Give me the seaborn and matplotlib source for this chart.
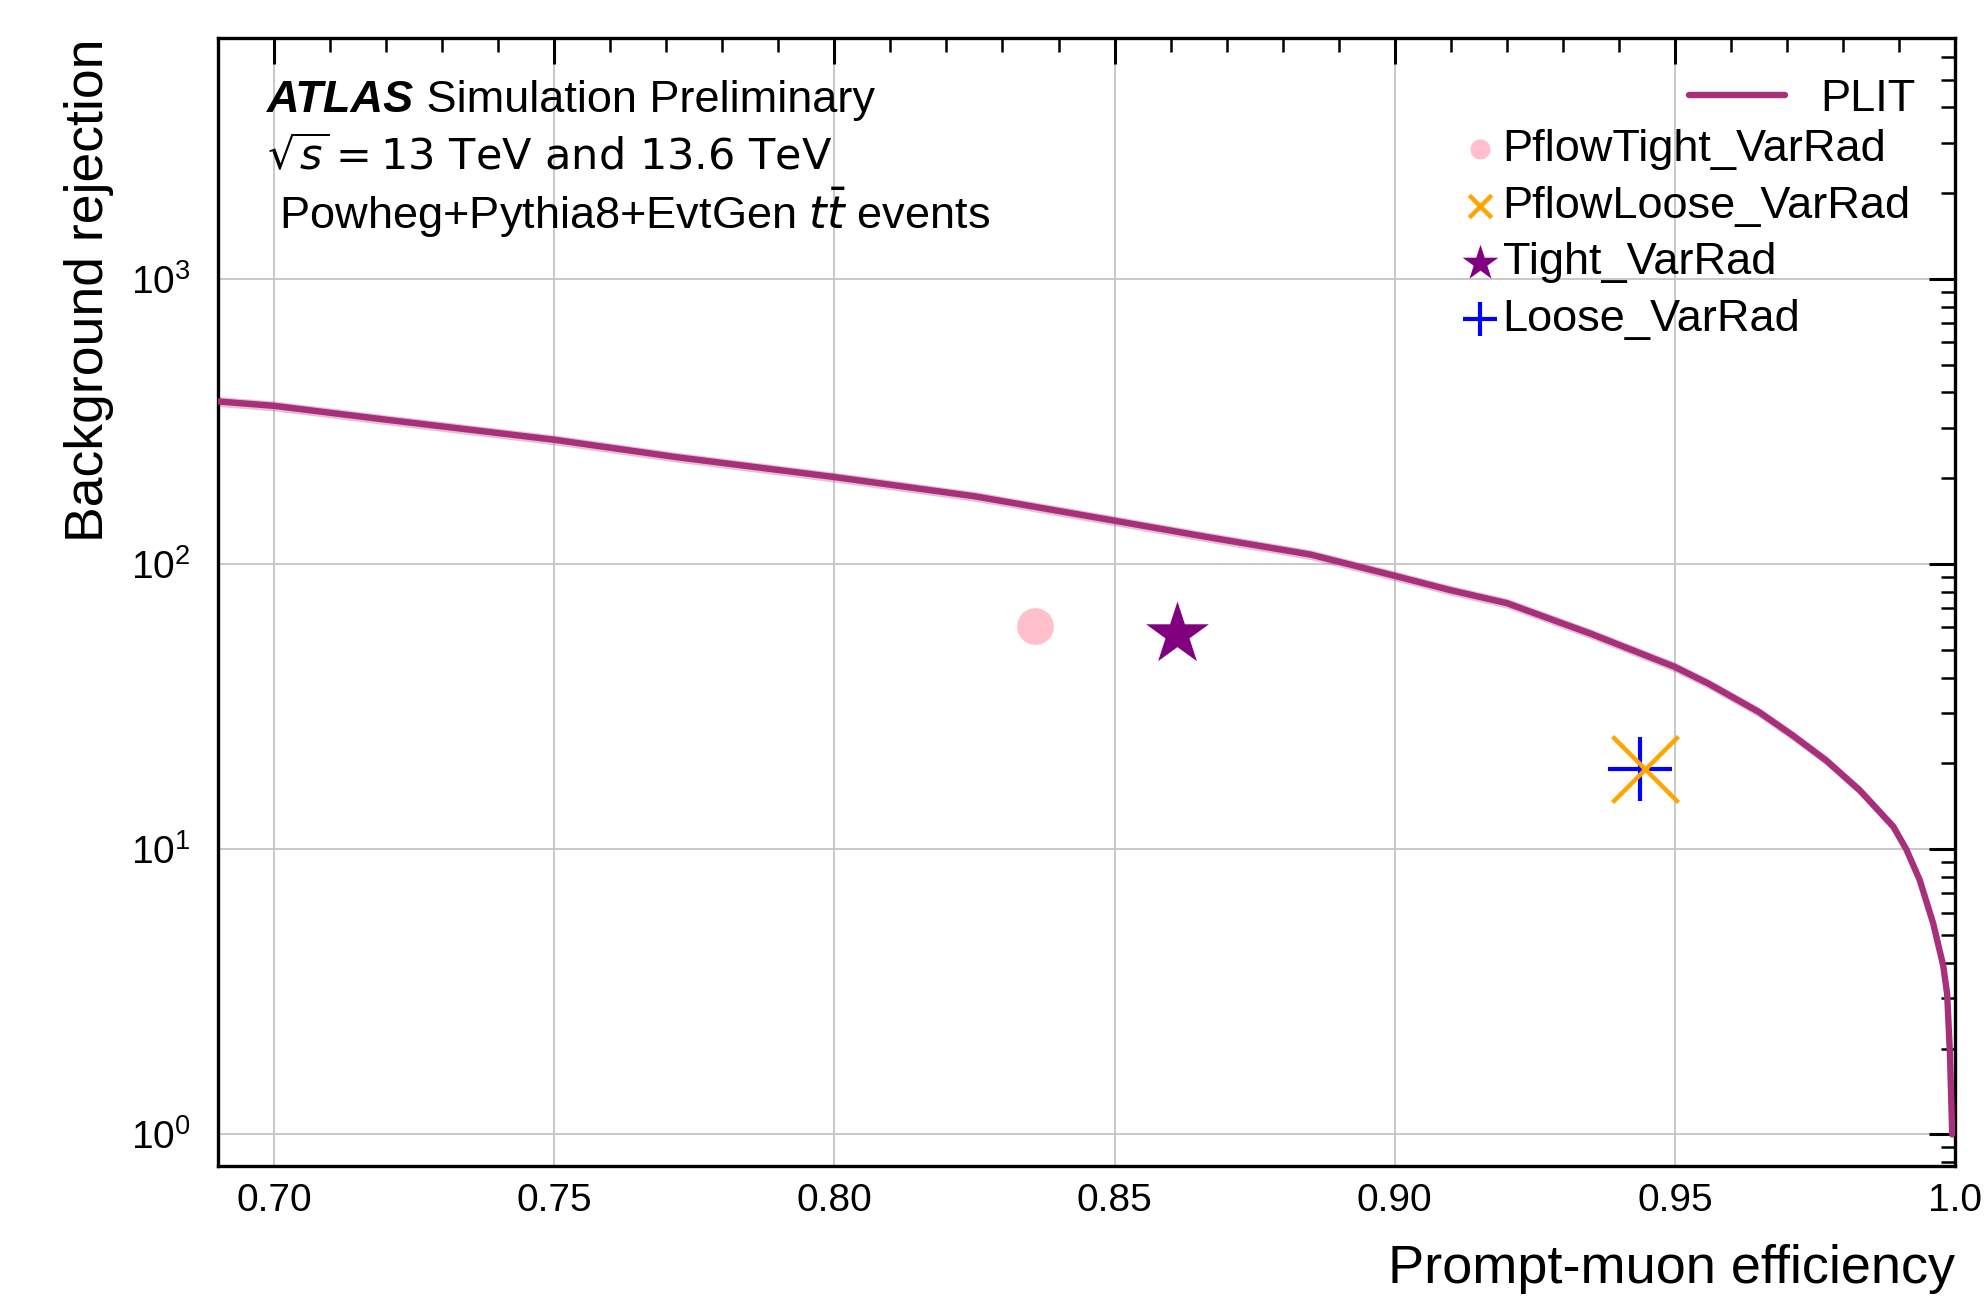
import numpy as np
import matplotlib
matplotlib.use("Agg")
import matplotlib.pyplot as plt
import seaborn as sns
from matplotlib.ticker import FixedLocator, MultipleLocator, LogLocator, NullFormatter

# -------------------------------
# Data
# -------------------------------
eff = [0.690, 0.700, 0.720, 0.750, 0.772, 0.800, 0.825, 0.850, 0.866, 0.885,
       0.900, 0.910, 0.920, 0.935, 0.950, 0.956, 0.965, 0.971, 0.977, 0.983,
       0.989, 0.9913, 0.9937, 0.9961, 0.9979, 0.9986, 0.9991, 0.9995]
rej = [372, 359, 321, 273, 237, 202, 173, 142, 125, 108,
       91, 81, 73, 57, 43.6, 38.1, 30.3, 25.1, 20.5, 16.1,
       12.0, 10, 7.8, 5.5, 3.9, 3.1, 1.9, 1.0]

wp_names = ["PflowTight_VarRad", "PflowLoose_VarRad", "Tight_VarRad", "Loose_VarRad"]
wp_eff = [0.8358, 0.9446, 0.8611, 0.9438]
wp_rej = [60.9, 19.2, 57.1, 19.2]
wp_markers = ["o", "x", "*", "+"]
wp_colors = ["pink", "orange", "purple", "blue"]

xticks = [0.70, 0.75, 0.80, 0.85, 0.90, 0.95, 1.0]
xticklabels = ["0.70", "0.75", "0.80", "0.85", "0.90", "0.95", "1.0"]

plit_color = "#a8307a"

# -------------------------------
# Style
# -------------------------------
sns.set_theme(style="white")
plt.rcParams["font.family"] = ["Liberation Sans", "DejaVu Sans"]
plt.rcParams["mathtext.fontset"] = "dejavusans"
for k in ["text.color", "axes.labelcolor", "xtick.color", "ytick.color"]:
    plt.rcParams[k] = "black"

fig = plt.figure(figsize=(19.84, 12.97), dpi=100)
ax = fig.add_axes([0.1099, 0.1010, 0.8755, 0.8697])

# -------------------------------
# ROC curve + working points
# -------------------------------
ax.fill_between(eff, np.array(rej) * 0.96, np.array(rej) * 1.04,
                color=plit_color, alpha=0.3, lw=0, zorder=2)
sns.lineplot(x=eff, y=rej, ax=ax, color=plit_color, lw=4.6, sort=False,
             errorbar=None, zorder=3)
plit_line = ax.lines[-1]

sizes = [700, 2250, 2260, 2150]
lws = [0, 3.2, 0, 3.0]
zs = [4, 6, 4, 5]
wp_handles = []
for name, e, r, m, c, s, lw, z in zip(wp_names, wp_eff, wp_rej, wp_markers,
                                      wp_colors, sizes, lws, zs):
    if m in ("x", "+"):
        sns.scatterplot(x=[e], y=[r], ax=ax, marker=m, color=c, s=s,
                        linewidth=lw, edgecolor=None, zorder=z)
    else:
        sns.scatterplot(x=[e], y=[r], ax=ax, marker=m, color=c, s=s,
                        linewidth=0, edgecolor=c, zorder=z)
    wp_handles.append(ax.collections[-1])

# -------------------------------
# Axes
# -------------------------------
ax.set_yscale("log")
ax.set_xlim(0.69, 1.0)
ax.set_ylim(0.775, 7000)

ax.xaxis.set_major_locator(FixedLocator(xticks))
ax.set_xticklabels(xticklabels)
ax.xaxis.set_minor_locator(MultipleLocator(0.01))
ax.yaxis.set_major_locator(LogLocator(base=10, numticks=10))
ax.yaxis.set_minor_locator(LogLocator(base=10, subs=np.arange(2, 10), numticks=100))
ax.yaxis.set_minor_formatter(NullFormatter())

ax.tick_params(which="both", direction="in", top=True, right=True, labelsize=28)
ax.tick_params(axis="x", which="major", pad=12)
ax.tick_params(axis="y", which="major", pad=20)
ax.tick_params(which="major", length=19, width=2.2)
ax.tick_params(which="minor", length=10, width=1.8)
for sp in ax.spines.values():
    sp.set_linewidth(2.4)
    sp.set_color("black")

ax.set_axisbelow(True)
ax.grid(True, which="major", color="#c4c4c4", lw=1.3)

ax.set_xlabel("Prompt-muon efficiency", loc="right", fontsize=39, labelpad=18)
ax.set_ylabel("Background rejection", loc="top", fontsize=38.5, labelpad=12)

# -------------------------------
# ATLAS label
# -------------------------------
fs = 32.5
t_atlas = ax.text(0.028, 0.9446, "ATLAS", transform=ax.transAxes, fontsize=fs,
                  fontweight="bold", fontstyle="italic", va="center", ha="left")
fig.canvas.draw()
bb = t_atlas.get_window_extent()
x_next = ax.transAxes.inverted().transform((bb.x1, bb.y0))[0]
ax.text(x_next, 0.9446, " Simulation Preliminary", transform=ax.transAxes,
        fontsize=fs, va="center", ha="left")
ax.text(0.028, 0.8936, r"$\sqrt{s} = 13$ TeV and 13.6 TeV", transform=ax.transAxes,
        fontsize=31, va="center", ha="left", family=["DejaVu Sans"])
ax.text(0.028, 0.845, r" Powheg+Pythia8+EvtGen $t\bar{t}$ events",
        transform=ax.transAxes, fontsize=fs, va="center", ha="left")

# -------------------------------
# Legends
# -------------------------------
lfs = 32.5
leg1 = ax.legend(handles=[plit_line], labels=["PLIT"], loc="upper right",
                 bbox_to_anchor=(0.9775, 0.9636), borderaxespad=0, borderpad=0,
                 frameon=False, handlelength=2.13, handletextpad=0.78, fontsize=lfs)
ax.add_artist(leg1)

leg2 = ax.legend(handles=wp_handles, labels=wp_names, loc="upper left",
                 bbox_to_anchor=(0.7162, 0.9195), borderaxespad=0, borderpad=0,
                 frameon=False, handlelength=0.8, handletextpad=0.1,
                 labelspacing=0.35, fontsize=lfs)
for h, s in zip(leg2.legend_handles, [210, 260, 730, 570]):
    h.set_sizes([s])

plt.savefig("out.png", dpi=100)
